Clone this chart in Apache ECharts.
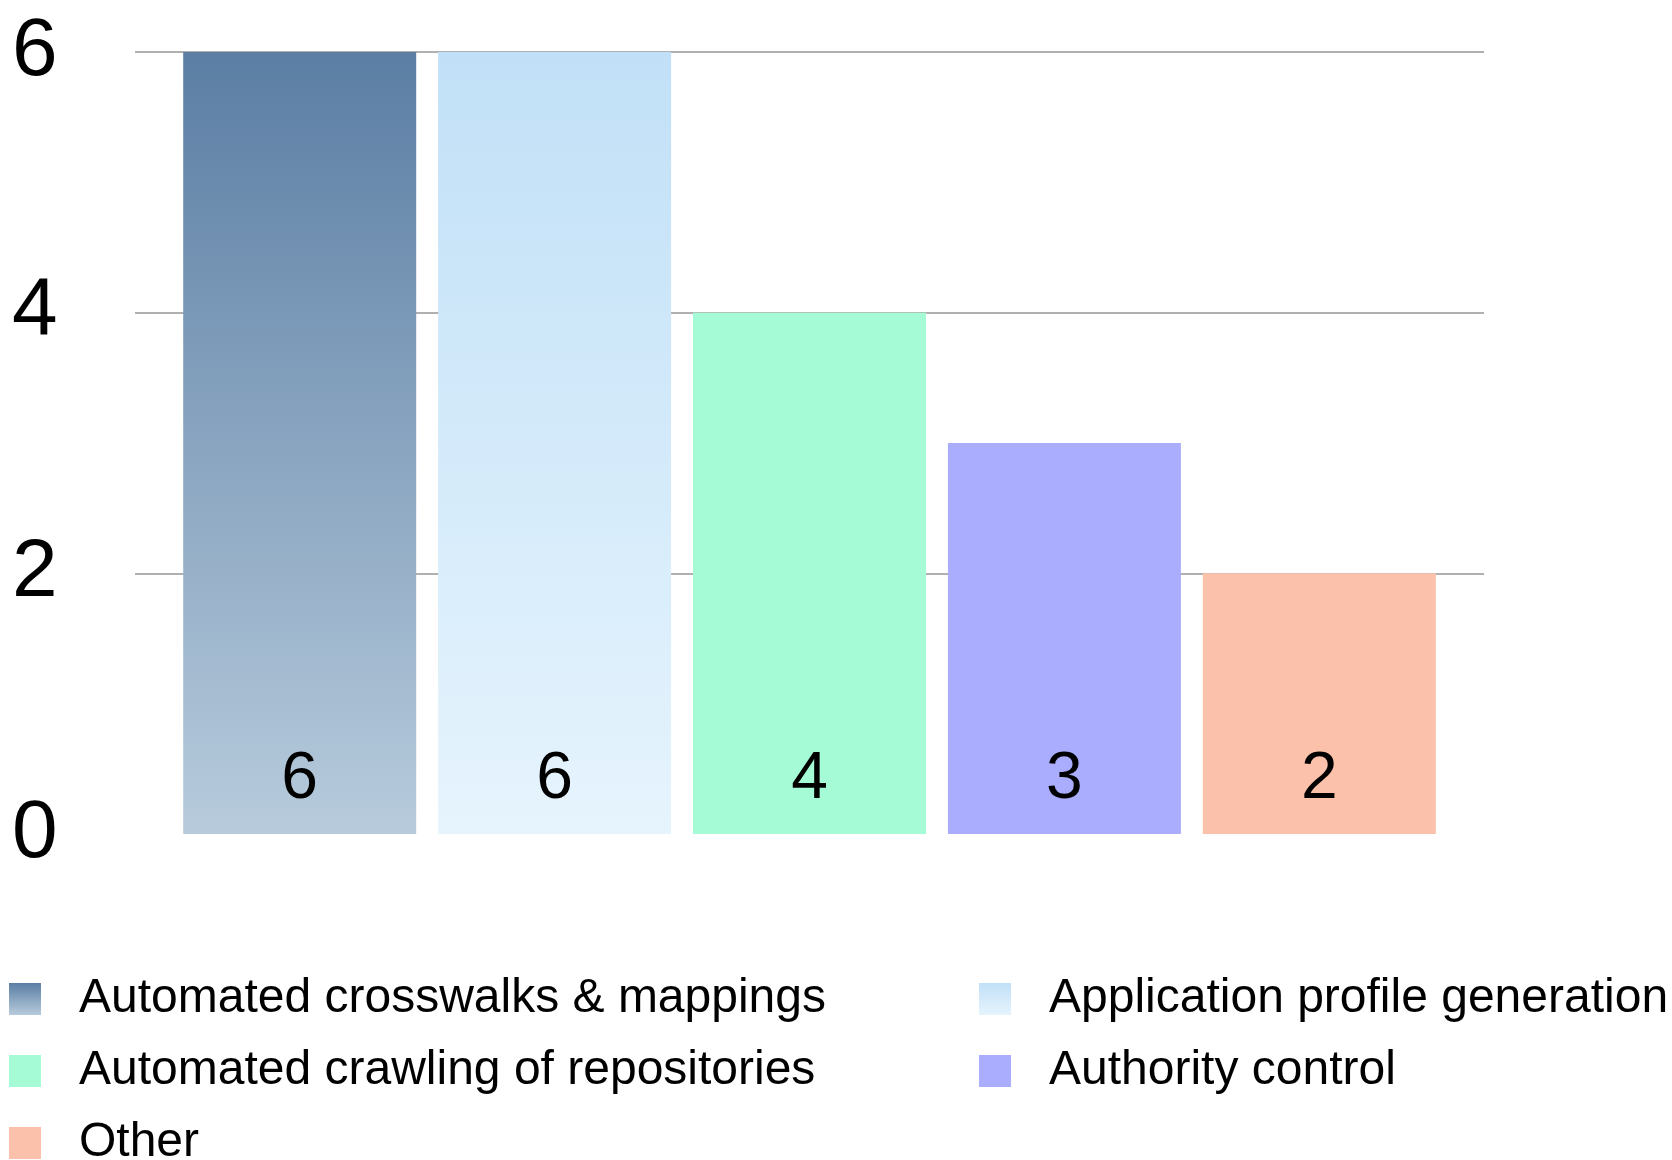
<!DOCTYPE html>
<html>
<head>
<meta charset="utf-8">
<script src="https://cdn.jsdelivr.net/npm/echarts@6/dist/echarts.min.js"></script>
<style>
html,body{margin:0;padding:0;background:#fff;}
#chart{width:1672px;height:1160px;}
</style>
</head>
<body>
<div id="chart"></div>
<script>
const categories = ['Count'];
const seriesNames = [
  'Automated crosswalks & mappings',
  'Application profile generation',
  'Automated crawling of repositories',
  'Authority control',
  'Other'
];
const seriesValues = [6, 6, 4, 3, 2];
const yTicks = [0, 2, 4, 6];

const colors = [
  new echarts.graphic.LinearGradient(0, 0, 0, 1, [
    {offset: 0, color: '#5b7ea4'}, {offset: 1, color: '#b7cbdc'}]),
  new echarts.graphic.LinearGradient(0, 0, 0, 1, [
    {offset: 0, color: '#c1e0f7'}, {offset: 1, color: '#e6f4fd'}]),
  '#a5fbd6',
  '#aaadfe',
  '#fcc1aa'
];

const font = '"Liberation Sans", Arial, Helvetica, sans-serif';
const chart = echarts.init(document.getElementById('chart'));

const series = seriesNames.map((name, i) => ({
  name: name,
  type: 'bar',
  data: [seriesValues[i]],
  barWidth: 233,
  barGap: '9.4%',
  itemStyle: {color: colors[i]},
  label: {
    show: true,
    position: 'insideBottom',
    distance: 21,
    fontSize: 66,
    lineHeight: 66,
    fontFamily: font,
    color: '#000'
  }
}));

// legend layout: [series index, column, row]
const legendSlots = [[0, 0, 0], [1, 1, 0], [2, 0, 1], [3, 1, 1], [4, 0, 2]];
const colLeft = [9, 979];
const rowTop = [975, 1047, 1119];
const legends = legendSlots.map(([si, c, r]) => ({
  data: [seriesNames[si]],
  orient: 'vertical',
  left: colLeft[c],
  top: rowTop[r],
  itemWidth: 32,
  itemHeight: 32,
  icon: 'rect',
  selectedMode: false,
  padding: 0,
  textStyle: {fontSize: 48, fontFamily: font, color: '#000', padding: [0, 0, 0, 33]}
}));

chart.setOption({
  animation: false,
  backgroundColor: '#fff',
  grid: {left: 135, right: 188, top: 52, bottom: 326, containLabel: false},
  xAxis: {
    type: 'category',
    data: categories,
    axisLine: {show: false},
    axisTick: {show: false},
    axisLabel: {show: false}
  },
  yAxis: {
    type: 'value',
    min: yTicks[0],
    max: yTicks[yTicks.length - 1],
    interval: 2,
    axisLine: {show: false},
    axisTick: {show: false},
    splitLine: {show: true, showMinLine: false, lineStyle: {color: '#b0b0b0', width: 2}},
    axisLabel: {
      fontSize: 82,
      fontFamily: font,
      color: '#000',
      align: 'left',
      margin: 123,
      padding: [0, 0, 14, 0]
    }
  },
  legend: legends,
  series: series
});
</script>
</body>
</html>
